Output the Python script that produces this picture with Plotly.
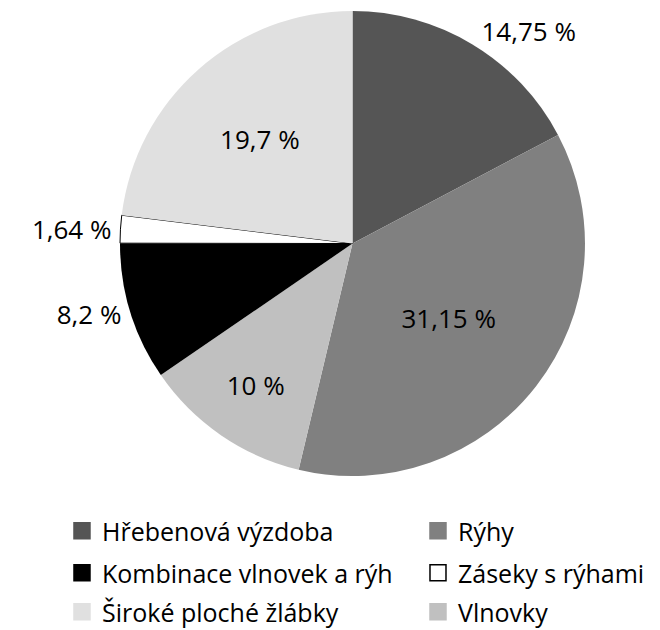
import plotly.graph_objects as go

# Data (clockwise from 12 o'clock)
categories = ["Hřebenová výzdoba", "Rýhy", "Vlnovky", "Kombinace vlnovek a rýh",
              "Záseky s rýhami", "Široké ploché žlábky"]
values = [14.75, 31.15, 10, 8.2, 1.64, 19.7]
colors = ["#555555", "#808080", "#c0c0c0", "#000000", "#ffffff", "#e0e0e0"]
positions = ["outside", "inside", "inside", "outside", "outside", "inside"]

# legend order (row-wise, 2 columns)
legend_order = ["Hřebenová výzdoba", "Rýhy", "Kombinace vlnovek a rýh",
                "Záseky s rýhami", "Široké ploché žlábky", "Vlnovky"]

FONT = "Open Sans"
labels_text = [f"{v:g}".replace(".", ",") + " %" for v in values]

fig = go.Figure()
fig.add_trace(go.Pie(
    labels=categories, values=values, text=labels_text, textinfo="text",
    sort=False, direction="clockwise", rotation=0,
    marker=dict(colors=colors,
                line=dict(color=["#000000" if c == "#ffffff" else "rgba(0,0,0,0)" for c in colors],
                          width=[1 if c == "#ffffff" else 0 for c in colors])),
    textposition=positions, insidetextorientation="horizontal",
    textfont=dict(family=FONT, size=26, color="#000000"),
    outsidetextfont=dict(family=FONT, size=26, color="#000000"),
    insidetextfont=dict(family=FONT, size=26, color="#000000"),
    domain=dict(x=[0.1697, 0.8742], y=[0.2571, 0.9952]),
    showlegend=False, hoverinfo="label+text",
))

legend_keys = ["legend", "legend2", "legend3", "legend4", "legend5", "legend6"]
col_x = [0.0818, 0.6212]
row_y = [523, 565, 604]
for i, name in enumerate(legend_order):
    idx = categories.index(name)
    c = colors[idx]
    fig.add_trace(go.Scatter(
        x=[None], y=[None], mode="markers", name=name,
        marker=dict(symbol="square", size=16, color=c,
                    line=dict(color="#000000" if c == "#ffffff" else c, width=1.5)),
        legend=legend_keys[i], showlegend=True,
    ))

legend_layout = {}
for i, key in enumerate(legend_keys):
    legend_layout[key] = dict(
        orientation="h",
        font=dict(family=FONT, size=25, color="#000000"),
        bgcolor="rgba(0,0,0,0)", itemwidth=30,
        xanchor="left", yanchor="middle",
        x=col_x[i % 2], y=1 - row_y[i // 2] / 630,
    )

fig.update_layout(
    width=660, height=630,
    margin=dict(l=0, r=0, t=0, b=0, autoexpand=False),
    paper_bgcolor="white", plot_bgcolor="white",
    separators=", ",
    xaxis=dict(visible=False), yaxis=dict(visible=False),
    **legend_layout,
)

fig.write_html("out.html")
